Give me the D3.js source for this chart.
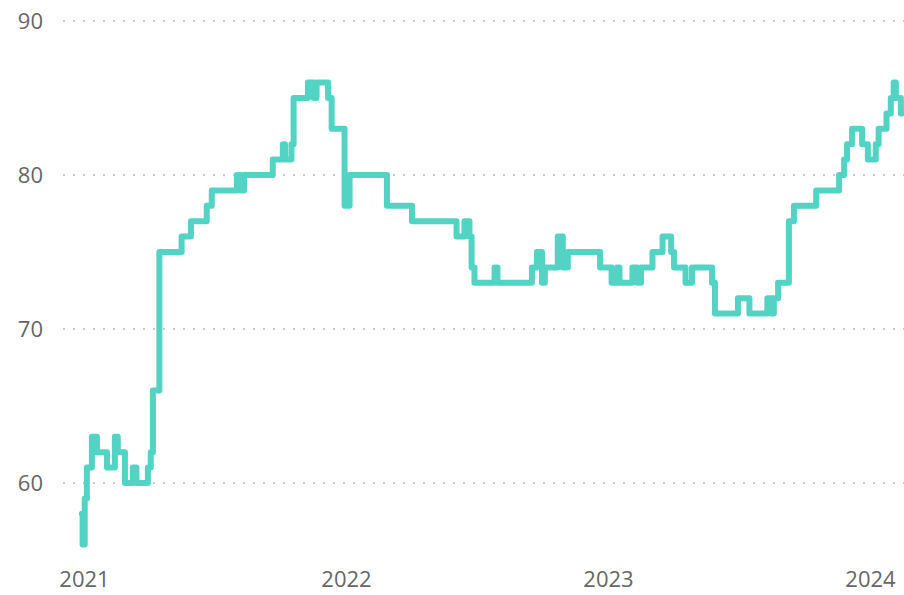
<!DOCTYPE html>
<html>
<head>
<meta charset="utf-8">
<script src="https://cdn.jsdelivr.net/npm/d3@7/dist/d3.min.js"></script>
<style>
  html, body { margin: 0; padding: 0; background: #fff; }
  svg text { font-family: "Open Sans", "Noto Sans", sans-serif; fill: #666; }
  .grid line { stroke: #c8c8c8; stroke-width: 2; stroke-dasharray: 2,8; }
  .line { fill: none; stroke: #52d3c3; stroke-width: 6; stroke-linejoin: round; stroke-linecap: round; }
</style>
</head>
<body>
<div id="chart"></div>
<script>

// Step dates (value holds from that date on).
var dates = [
  '2020-12-29', '2020-12-30', '2021-01-02', '2021-01-05', '2021-01-12', '2021-01-19',
  '2021-02-02', '2021-02-13', '2021-02-17', '2021-02-27', '2021-03-10', '2021-03-15',
  '2021-03-31', '2021-04-04', '2021-04-07', '2021-04-16', '2021-05-17', '2021-05-30',
  '2021-06-21', '2021-06-28', '2021-08-02', '2021-08-07', '2021-08-12', '2021-09-21',
  '2021-10-05', '2021-10-08', '2021-10-17', '2021-10-20', '2021-11-09', '2021-11-17',
  '2021-11-21', '2021-12-07', '2021-12-12', '2021-12-30', '2022-01-06', '2022-02-27',
  '2022-04-03', '2022-06-04', '2022-06-15', '2022-06-22', '2022-06-25', '2022-06-29',
  '2022-07-27', '2022-07-31', '2022-09-17', '2022-09-24', '2022-10-01', '2022-10-05',
  '2022-10-23', '2022-10-30', '2022-11-06', '2022-12-21', '2023-01-06', '2023-01-14',
  '2023-01-17', '2023-02-04', '2023-02-11', '2023-02-16', '2023-03-04', '2023-03-18',
  '2023-03-30', '2023-04-03', '2023-04-19', '2023-04-28', '2023-05-26', '2023-05-30',
  '2023-07-01', '2023-07-17', '2023-08-11', '2023-08-16', '2023-08-20', '2023-08-26',
  '2023-09-10', '2023-09-17', '2023-10-18', '2023-11-19', '2023-11-26', '2023-11-30',
  '2023-12-07', '2023-12-21', '2023-12-29', '2024-01-09', '2024-01-13', '2024-01-24',
  '2024-01-30', '2024-02-03', '2024-02-06', '2024-02-13', '2024-02-15'
];

// Values for each step date.
var values = [
  58, 56, 59, 61, 63, 62,
  61, 63, 62, 60, 61, 60,
  61, 62, 66, 75, 76, 77,
  78, 79, 80, 79, 80, 81,
  82, 81, 82, 85, 86, 85,
  86, 85, 83, 78, 80, 78,
  77, 76, 77, 76, 74, 73,
  74, 73, 74, 75, 73, 74,
  76, 74, 75, 74, 73, 74,
  73, 74, 73, 74, 75, 76,
  75, 74, 73, 74, 73, 71,
  72, 71, 72, 71, 72, 73,
  77, 78, 79, 80, 81, 82,
  83, 82, 81, 82, 83, 84,
  85, 86, 85, 84, 84
];

// Axis ticks.
var yTicks = [60, 70, 80, 90];
var xTicks = ['2021-01-01', '2022-01-01', '2023-01-01', '2024-01-01'];

var width = 904;
var height = 595;
var parse = d3.timeParse('%Y-%m-%d');

// Build points.
var points = dates.map(function(d, i) {
  return { date: parse(d), value: values[i] };
});

// Scales.
var x = d3.scaleTime()
  .domain([parse('2021-01-01'), parse('2024-01-01')])
  .range([84, 870]);

var y = d3.scaleLinear()
  .domain([60, 90])
  .range([483, 21]);

var svg = d3.select('#chart').append('svg')
  .attr('width', width)
  .attr('height', height);

// Dotted gridlines.
var grid = svg.append('g').attr('class', 'grid');
grid.selectAll('line')
  .data(yTicks)
  .enter().append('line')
  .attr('x1', 63)
  .attr('x2', width)
  .attr('y1', function(d) { return y(d); })
  .attr('y2', function(d) { return y(d); });

// Y labels.
var yAxis = d3.axisLeft(y).tickValues(yTicks).tickSize(0).tickPadding(0);
svg.append('g')
  .attr('transform', 'translate(43,0)')
  .call(yAxis)
  .call(function(g) { g.select('.domain').remove(); })
  .selectAll('text')
  .style('font-size', '22px')
  .attr('fill', '#666');

// X labels.
var xAxis = d3.axisBottom(x)
  .tickValues(xTicks.map(parse))
  .tickFormat(d3.timeFormat('%Y'))
  .tickSize(0)
  .tickPadding(0);
svg.append('g')
  .attr('transform', 'translate(0,571)')
  .call(xAxis)
  .call(function(g) { g.select('.domain').remove(); })
  .selectAll('text')
  .style('font-size', '22px')
  .attr('fill', '#666');

// Step line.
var line = d3.line()
  .curve(d3.curveStepAfter)
  .x(function(d) { return x(d.date); })
  .y(function(d) { return y(d.value); });

svg.append('path')
  .datum(points)
  .attr('class', 'line')
  .attr('d', line);

</script>
</body>
</html>
